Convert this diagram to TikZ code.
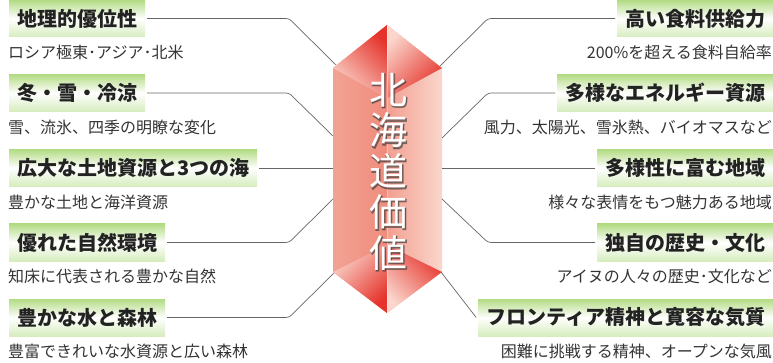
\documentclass[tikz,border=0pt]{standalone}
\usepackage{fontspec}
\setmainfont{Noto Sans CJK JP}
\newfontfamily\gemglow{Noto Sans CJK JP}[FakeBold=3]
\usetikzlibrary{positioning}

\definecolor{leaf}{HTML}{B3DB83}
\definecolor{leafpale}{HTML}{D6EDBE}
\definecolor{ruby}{HTML}{E5332B}
\definecolor{rubymid}{HTML}{EF8C7C}
\definecolor{rubypale}{HTML}{FAD6CC}
\definecolor{ink}{HTML}{222222}
\definecolor{wire}{HTML}{666666}

\begin{document}
\begin{tikzpicture}[
    x=1pt, y=-1pt,
    titlebox/.style={
        top color=leaf, bottom color=leafpale, middle color=white,
        minimum height=37pt, inner xsep=8pt, outer sep=2pt,
        text=ink, font=\fontsize{20}{24}\selectfont\bfseries
    },
    note/.style={
        inner sep=0pt, text=black!80,
        font=\fontsize{16}{18}\selectfont
    },
    link/.style={draw=wire, line width=0.7pt, rounded corners=3pt},
    facet/.style={shading=axis, top color=ruby, bottom color=rubypale},
    crest/.style={align=center, font=\fontsize{38}{40.75}\selectfont}
]
\useasboundingbox (0,0) rectangle (773,363);

% the gem in the middle
\coordinate (apex) at (387,25);
\coordinate (ur) at (442,68);
\coordinate (lr) at (442,272);
\coordinate (foot) at (387,313);
\coordinate (ll) at (333,272);
\coordinate (ul) at (333,68);
\coordinate (m1) at (387,98);
\coordinate (m2) at (387,245);

\shade[left color=rubymid!70!rubypale, right color=rubymid] (ul) -- (apex) -- (foot) -- (ll) -- cycle;
\shade[left color=rubymid!75!rubypale, right color=rubypale] (apex) -- (ur) -- (lr) -- (foot) -- cycle;
\shade[facet, shading angle=-45] (apex) -- (ul) -- (m1) -- cycle;
\shade[facet, shading angle=-135] (apex) -- (ur) -- (m1) -- cycle;
\shade[facet, shading angle=-135] (ll) -- (foot) -- (m2) -- cycle;
\shade[facet, shading angle=-45] (lr) -- (foot) -- (m2) -- cycle;
\draw[white, opacity=.35, line width=0.4pt] (apex) -- (foot);

\node[crest, text=black!75, opacity=.55, font=\gemglow\fontsize{38}{40.75}\selectfont] (glow) at (389,172.5) {北\\海\\道\\価\\値};
\node[crest, text=white] (crest) at (388,171.5) {北\\海\\道\\価\\値};

% left column
\node[titlebox, anchor=west] (l1) at (7,18.5) {地理的優位性};
\node[titlebox, anchor=west] (l2) at (7,93) {冬・雪・冷涼};
\node[titlebox, anchor=west] (l3) at (7,168) {広大な土地資源と3つの海};
\node[titlebox, anchor=west] (l4) at (7,242.5) {優れた自然環境};
\node[titlebox, anchor=west] (l5) at (7,317.5) {豊かな水と森林};

\node[note, below right=6pt and 1pt of l1.south west] (n1) {ロシア極東･アジア･北米};
\node[note, below right=6pt and 1pt of l2.south west] (n2) {雪、流氷、四季の明瞭な変化};
\node[note, below right=6pt and 1pt of l3.south west] (n3) {豊かな土地と海洋資源};
\node[note, below right=6pt and 1pt of l4.south west] (n4) {知床に代表される豊かな自然};
\node[note, below right=6pt and 1pt of l5.south west] (n5) {豊富できれいな水資源と広い森林};

% right column
\node[titlebox, anchor=east] (r1) at (775,18.5) {高い食料供給力};
\node[titlebox, anchor=east] (r2) at (775,93) {多様なエネルギー資源};
\node[titlebox, anchor=east] (r3) at (775,168) {多様性に富む地域};
\node[titlebox, anchor=east] (r4) at (775,242.5) {独自の歴史・文化};
\node[titlebox, anchor=east] (r5) at (775,317.5) {フロンティア精神と寛容な気質};

\node[note, below left=6pt and 3pt of r1.south east] (p1) {200\%を超える食料自給率};
\node[note, below left=6pt and 3pt of r2.south east] (p2) {風力、太陽光、雪氷熱、バイオマスなど};
\node[note, below left=6pt and 3pt of r3.south east] (p3) {様々な表情をもつ魅力ある地域};
\node[note, below left=6pt and 3pt of r4.south east] (p4) {アイヌの人々の歴史･文化など};
\node[note, below left=6pt and 3pt of r5.south east] (p5) {困難に挑戦する精神、オープンな気風};

% where the links meet the gem
\coordinate (kl) at (289,0);
\coordinate (kr) at (488,0);
\coordinate (gl1) at (336,65);
\coordinate (gl2) at (333,136);
\coordinate (gl3) at (333,168);
\coordinate (gl4) at (333,199);
\coordinate (gl5) at (334,273);
\coordinate (gr1) at (440,66);
\coordinate (gr2) at (442,138);
\coordinate (gr3) at (442,168);
\coordinate (gr4) at (442,199);
\coordinate (gr5) at (441,272);

\draw[link] (l1.east) -- (l1.east -| kl) -- (gl1);
\draw[link] (l2.east) -- (l2.east -| kl) -- (gl2);
\draw[link] (l3.east) -- (gl3);
\draw[link] (l4.east) -- (l4.east -| kl) -- (gl4);
\draw[link] (l5.east) -- (l5.east -| kl) -- (gl5);

\draw[link] (r1.west) -- (r1.west -| kr) -- (gr1);
\draw[link] (r2.west) -- (r2.west -| kr) -- (gr2);
\draw[link] (r3.west) -- (gr3);
\draw[link] (r4.west) -- (r4.west -| kr) -- (gr4);
\draw[link] (r5.west) -- (gr5);

\end{tikzpicture}
\end{document}
